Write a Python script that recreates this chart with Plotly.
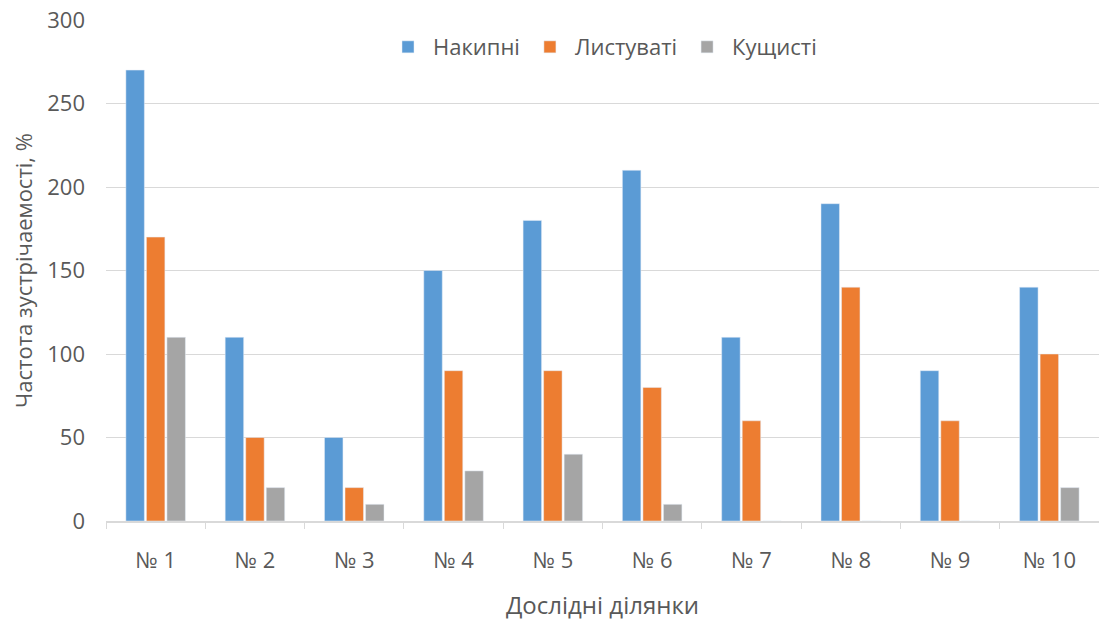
import plotly.graph_objects as go

categories = ["№ 1", "№ 2", "№ 3", "№ 4", "№ 5", "№ 6", "№ 7", "№ 8", "№ 9", "№ 10"]
nakypni = [270, 110, 50, 150, 180, 210, 110, 190, 90, 140]
lystuvati = [170, 50, 20, 90, 90, 80, 60, 140, 60, 100]
kushchysti = [110, 20, 10, 30, 40, 10, 0, 0, 0, 20]
y_ticks = [0, 50, 100, 150, 200, 250, 300]

font_family = "Open Sans, DejaVu Sans, sans-serif"
text_color = "#595959"

fig = go.Figure()
fig.add_trace(go.Bar(x=categories, y=nakypni, name="Накипні", marker_color="#5B9BD5"))
fig.add_trace(go.Bar(x=categories, y=lystuvati, name="Листуваті", marker_color="#ED7D31"))
fig.add_trace(go.Bar(x=categories, y=kushchysti, name="Кущисті", marker_color="#A5A5A5"))

fig.update_layout(
    width=1099, height=622,
    margin=dict(l=106, r=0, t=20, b=101),
    paper_bgcolor="white", plot_bgcolor="white",
    barmode="group", bargap=0.38, bargroupgap=0.1,
    font=dict(family=font_family, color=text_color, size=21),
    legend=dict(orientation="h", x=0.5, xanchor="center", y=0.946, yanchor="middle",
                font=dict(size=22, color=text_color), bgcolor="rgba(0,0,0,0)",
                itemwidth=40, tracegroupgap=0),
    xaxis=dict(title=dict(text="Дослідні ділянки", font=dict(size=24, color=text_color), standoff=24),
               showline=True, linecolor="#D9D9D9", linewidth=1.5,
               ticks="outside", tickson="boundaries", ticklen=6, tickcolor="#D9D9D9",
               tickfont=dict(size=22, color=text_color), showgrid=False, ticklabelstandoff=19,
               automargin=False),
    yaxis=dict(title=dict(text="Частота зустрічаемості, %", font=dict(size=22, color=text_color), standoff=8),
               range=[0, 300], tickvals=y_ticks, showgrid=True, gridcolor="#D9D9D9", gridwidth=1,
               zeroline=False, tickfont=dict(size=22, color=text_color), ticks="", ticklabelstandoff=20,
               ticklabeloverflow="allow", automargin=False),
)

fig.write_html("out.html", config={"displayModeBar": False},
               post_script="document.body.style.margin='0';")
